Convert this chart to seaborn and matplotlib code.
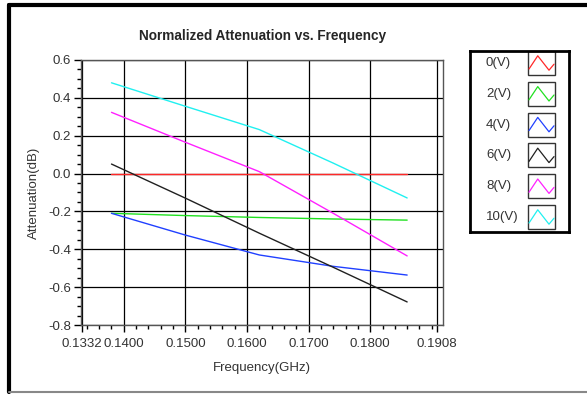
import numpy as np
import pandas as pd
import seaborn as sns
import matplotlib.pyplot as plt
from matplotlib.patches import Rectangle
from matplotlib.ticker import MultipleLocator

# frequency points (GHz) and normalized attenuation (dB) per bias voltage
freq = [0.138, 0.150, 0.162, 0.174, 0.186]
v0 = [0.0, 0.0, 0.0, 0.0, 0.0]
v2 = [-0.210, -0.222, -0.232, -0.240, -0.246]
v4 = [-0.210, -0.325, -0.430, -0.490, -0.536]
v6 = [0.050, -0.130, -0.315, -0.495, -0.678]
v8 = [0.323, 0.165, 0.010, -0.210, -0.435]
v10 = [0.479, 0.355, 0.232, 0.055, -0.129]
labels = ["0(V)", "2(V)", "4(V)", "6(V)", "8(V)", "10(V)"]
colors = ["#ff2828", "#20e020", "#2040ff", "#202020", "#ff20ff", "#20f0f0"]
xticks = [0.1332, 0.14, 0.15, 0.16, 0.17, 0.18, 0.1908]
yticks = [-0.8, -0.6, -0.4, -0.2, 0.0, 0.2, 0.4, 0.6]

rows = []
for lab, vals in zip(labels, [v0, v2, v4, v6, v8, v10]):
    for f, v in zip(freq, vals):
        rows.append({"freq": f, "att": v, "bias": lab})
df = pd.DataFrame(rows)

sns.set_style("white")
plt.rcParams['font.family'] = ['Liberation Sans', 'DejaVu Sans']

fig = plt.figure(figsize=(5.87, 3.94), dpi=100)
ax = fig.add_axes([0.138, 0.175, 0.617, 0.673])

sns.lineplot(data=df, x="freq", y="att", hue="bias", palette=colors,
             hue_order=labels, linewidth=1.0, legend=False, ax=ax)

ax.set_xlim(0.13305, 0.19185)
ax.set_ylim(-0.8, 0.6)
ax.set_xticks(xticks)
ax.set_xticklabels([f"{t:.4f}" for t in xticks])
ax.set_yticks(yticks)
ax.set_yticklabels([f"{t:.1f}" for t in yticks])
ax.xaxis.set_minor_locator(MultipleLocator(0.002))
ax.yaxis.set_minor_locator(MultipleLocator(0.05))
ax.tick_params(axis='both', which='both', bottom=True, left=True)
ax.tick_params(axis='both', which='major', direction='out', length=5, width=1,
               labelsize=9.5, labelcolor='#333333', color='black')
ax.tick_params(axis='both', which='minor', direction='out', length=3, width=1,
               color='black')
ax.tick_params(axis='x', pad=4)
ax.tick_params(axis='y', pad=2)
ax.grid(True, which='major', color='black', linewidth=0.9)
for s in ax.spines.values():
    s.set_color('#555555')
    s.set_linewidth(1.0)

ax.set_title("Normalized Attenuation vs. Frequency", fontsize=9.8,
             fontweight='bold', pad=14)
ax.set_xlabel("Frequency(GHz)", fontsize=9.5, color='#333333', labelpad=9)
ax.set_ylabel("Attenuation(dB)", fontsize=9.5, color='#333333', labelpad=6)

# legend box drawn as its own panel
lax = fig.add_axes([470 / 587, 1 - 232 / 394, 99 / 587, 181 / 394])
lax.set_xlim(0, 99)
lax.set_ylim(181, 0)
lax.set_xticks([])
lax.set_yticks([])
for s in lax.spines.values():
    s.set_linewidth(2)
    s.set_color('black')
zig_x = np.array([0, 0.35, 0.8, 1.0])
zig_y = np.array([0.75, 0.2, 0.8, 0.55])
for i, (lab, c) in enumerate(zip(labels, colors)):
    cy = 12 + i * 30.8
    lax.text(16, cy, lab, ha='left', va='center', fontsize=9.5,
             color='#333333')
    lax.add_patch(Rectangle((58, cy - 12), 27, 24, fill=False,
                            edgecolor='#333333', linewidth=1))
    lax.plot(59 + zig_x * 25, cy - 12 + zig_y * 24, color=c, linewidth=0.9)

# outer frame of the panel
fig.add_artist(plt.Line2D([9 / 587, 9 / 587], [0.005, 1 - 5 / 394],
                          transform=fig.transFigure, color='black', linewidth=3))
fig.add_artist(plt.Line2D([9 / 587, 1.0], [1 - 5 / 394, 1 - 5 / 394],
                          transform=fig.transFigure, color='black', linewidth=3))
fig.add_artist(plt.Line2D([9 / 587, 1.0], [0.005, 0.005],
                          transform=fig.transFigure, color='#888888', linewidth=1.5))

fig.savefig("out.png", dpi=100)
